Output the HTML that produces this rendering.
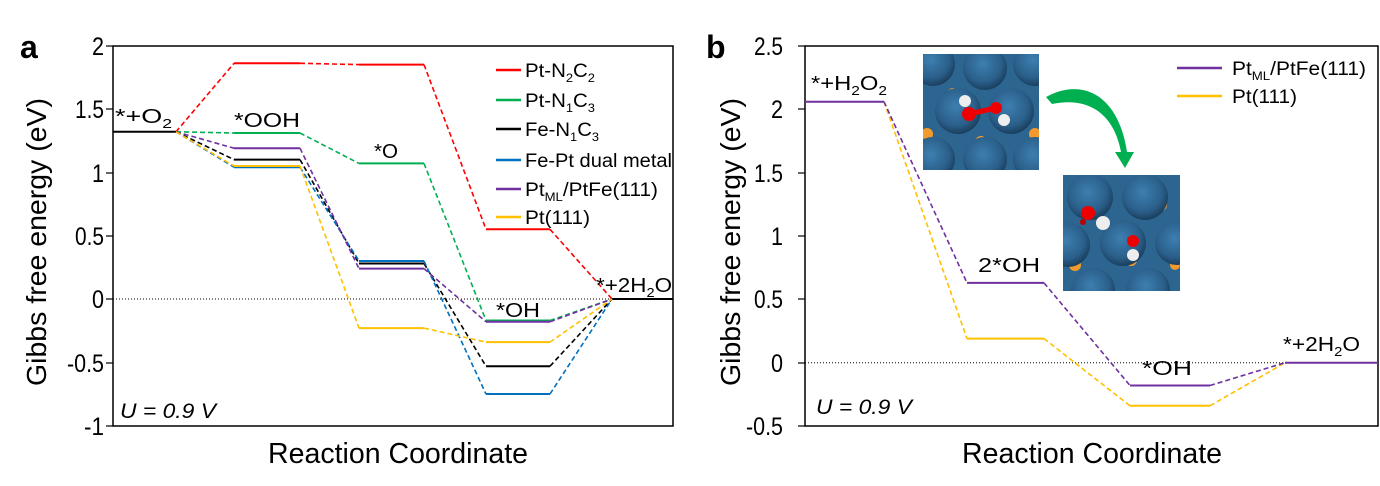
<!DOCTYPE html><html><head><style>body{margin:0;background:#fff}svg{display:block}text{font-family:"Liberation Sans",Arial,sans-serif}</style></head><body>
<svg width="1380" height="486" viewBox="0 0 1380 486" xmlns="http://www.w3.org/2000/svg">
<defs>
<radialGradient id="pt" cx="0.45" cy="0.4" r="0.6"><stop offset="0" stop-color="#3d7fb0"/><stop offset="0.7" stop-color="#2a5f8a"/><stop offset="1" stop-color="#1b3f5e"/></radialGradient>
</defs>
<!-- Panel a -->
<text x="20" y="58" font-size="32" font-weight="bold">a</text>
<rect x="113" y="46" width="560" height="380" fill="none" stroke="#000" stroke-width="1.5"/>
<line x1="113" y1="299" x2="673" y2="299" stroke="#000" stroke-width="1" stroke-dasharray="1,2"/>
<g font-size="25" text-anchor="end" lengthAdjust="spacingAndGlyphs">
<text x="104" y="55" textLength="12" lengthAdjust="spacingAndGlyphs">2</text><text x="104" y="118" textLength="29" lengthAdjust="spacingAndGlyphs">1.5</text><text x="104" y="182" textLength="12" lengthAdjust="spacingAndGlyphs">1</text><text x="104" y="245" textLength="29" lengthAdjust="spacingAndGlyphs">0.5</text><text x="104" y="308" textLength="12" lengthAdjust="spacingAndGlyphs">0</text><text x="104" y="372" textLength="37" lengthAdjust="spacingAndGlyphs">-0.5</text><text x="104" y="435" textLength="20" lengthAdjust="spacingAndGlyphs">-1</text></g>
<g stroke="#000" stroke-width="1.2"><line x1="106" y1="46" x2="113" y2="46"/><line x1="106" y1="109" x2="113" y2="109"/><line x1="106" y1="173" x2="113" y2="173"/><line x1="106" y1="236" x2="113" y2="236"/><line x1="106" y1="299" x2="113" y2="299"/><line x1="106" y1="363" x2="113" y2="363"/><line x1="106" y1="426" x2="113" y2="426"/></g>
<text transform="translate(46,242) rotate(-90)" font-size="28" text-anchor="middle" textLength="288" lengthAdjust="spacingAndGlyphs">Gibbs free energy (eV)</text>
<text x="398" y="463" font-size="29" text-anchor="middle" textLength="260" lengthAdjust="spacingAndGlyphs">Reaction Coordinate</text>
<text x="120" y="418" font-size="21" font-style="italic" textLength="96" lengthAdjust="spacingAndGlyphs">U = 0.9 V</text>
<g fill="none" stroke-width="2">
<g stroke="#ff0000"><path d="M234 63.3H300M359 64.6H424M486 229.3H550"/><path d="M176 131.8L234 63.3M300 63.3L359 64.6M424 64.6L486 229.3M550 229.3L612 299" stroke-width="1.6" stroke-dasharray="5,3"/></g>
<g stroke="#00b050"><path d="M234 133H300M359 163.4H424M486 320.5H550"/><path d="M176 131.8L234 133M300 133L359 163.4M424 163.4L486 320.5M550 320.5L612 299" stroke-width="1.6" stroke-dasharray="5,3"/></g>
<g stroke="#000"><path d="M234 159.6H300M359 263.5H424M486 366.2H550M113 131.8H176M612 299H673"/><path d="M176 131.8L234 159.6M300 159.6L359 263.5M424 263.5L486 366.2M550 366.2L612 299" stroke-width="1.6" stroke-dasharray="5,3"/></g>
<g stroke="#0070c0"><path d="M234 167.2H300M359 261H424M486 394H550"/><path d="M176 131.8L234 167.2M300 167.2L359 261M424 261L486 394M550 394L612 299" stroke-width="1.6" stroke-dasharray="5,3"/></g>
<g stroke="#7030a0"><path d="M234 148.2H300M359 268.6H424M486 321.8H550"/><path d="M176 131.8L234 148.2M300 148.2L359 268.6M424 268.6L486 321.8M550 321.8L612 299" stroke-width="1.6" stroke-dasharray="5,3"/></g>
<g stroke="#ffc000"><path d="M234 166H300M359 328.1H424M486 342.1H550"/><path d="M176 131.8L234 166M300 166L359 328.1M424 328.1L486 342.1M550 342.1L612 299" stroke-width="1.6" stroke-dasharray="5,3"/></g>
</g>
<g font-size="20">
<text x="115" y="123" textLength="57" lengthAdjust="spacingAndGlyphs">*+O<tspan font-size="13" dy="5">2</tspan></text>
<text x="234" y="127" textLength="66" lengthAdjust="spacingAndGlyphs">*OOH</text>
<text x="374" y="158" textLength="24" lengthAdjust="spacingAndGlyphs">*O</text>
<text x="496" y="317" textLength="44" lengthAdjust="spacingAndGlyphs">*OH</text>
<text x="596" y="292" textLength="76" lengthAdjust="spacingAndGlyphs">*+2H<tspan font-size="13" dy="5">2</tspan><tspan dy="-5">O</tspan></text>
</g>
<g font-size="19">
<line x1="496" y1="70" x2="521" y2="70" stroke="#ff0000" stroke-width="2.5"/><text x="525" y="77" textLength="70" lengthAdjust="spacingAndGlyphs">Pt-N<tspan font-size="12" dy="5">2</tspan><tspan dy="-5">C</tspan><tspan font-size="12" dy="5">2</tspan></text>
<line x1="496" y1="100" x2="521" y2="100" stroke="#00b050" stroke-width="2.5"/><text x="525" y="107" textLength="70" lengthAdjust="spacingAndGlyphs">Pt-N<tspan font-size="12" dy="5">1</tspan><tspan dy="-5">C</tspan><tspan font-size="12" dy="5">3</tspan></text>
<line x1="496" y1="129" x2="521" y2="129" stroke="#000" stroke-width="2.5"/><text x="525" y="136" textLength="74" lengthAdjust="spacingAndGlyphs">Fe-N<tspan font-size="12" dy="5">1</tspan><tspan dy="-5">C</tspan><tspan font-size="12" dy="5">3</tspan></text>
<line x1="496" y1="160" x2="521" y2="160" stroke="#0070c0" stroke-width="2.5"/><text x="525" y="167" textLength="147" lengthAdjust="spacingAndGlyphs">Fe-Pt dual metal</text>
<line x1="496" y1="189" x2="521" y2="189" stroke="#7030a0" stroke-width="2.5"/><text x="525" y="196" textLength="133" lengthAdjust="spacingAndGlyphs">Pt<tspan font-size="12" dy="5">ML</tspan><tspan dy="-5">/PtFe(111)</tspan></text>
<line x1="496" y1="217" x2="521" y2="217" stroke="#ffc000" stroke-width="2.5"/><text x="525" y="224" textLength="65" lengthAdjust="spacingAndGlyphs">Pt(111)</text>
</g>
<!-- Panel b -->
<text x="706" y="58" font-size="32" font-weight="bold">b</text>
<rect x="805" y="46" width="573" height="380" fill="none" stroke="#000" stroke-width="1.5"/>
<line x1="805" y1="362.7" x2="1378" y2="362.7" stroke="#000" stroke-width="1" stroke-dasharray="1,2"/>
<g font-size="25" text-anchor="end">
<text x="783" y="55" textLength="29" lengthAdjust="spacingAndGlyphs">2.5</text><text x="783" y="118" textLength="12" lengthAdjust="spacingAndGlyphs">2</text><text x="783" y="182" textLength="29" lengthAdjust="spacingAndGlyphs">1.5</text><text x="783" y="245" textLength="12" lengthAdjust="spacingAndGlyphs">1</text><text x="783" y="308" textLength="29" lengthAdjust="spacingAndGlyphs">0.5</text><text x="783" y="372" textLength="12" lengthAdjust="spacingAndGlyphs">0</text><text x="783" y="435" textLength="37" lengthAdjust="spacingAndGlyphs">-0.5</text></g>
<g stroke="#000" stroke-width="1.2"><line x1="798" y1="46" x2="805" y2="46"/><line x1="798" y1="109" x2="805" y2="109"/><line x1="798" y1="173" x2="805" y2="173"/><line x1="798" y1="236" x2="805" y2="236"/><line x1="798" y1="299" x2="805" y2="299"/><line x1="798" y1="363" x2="805" y2="363"/><line x1="798" y1="426" x2="805" y2="426"/></g>
<text transform="translate(740,242) rotate(-90)" font-size="28" text-anchor="middle" textLength="288" lengthAdjust="spacingAndGlyphs">Gibbs free energy (eV)</text>
<text x="1092" y="463" font-size="29" text-anchor="middle" textLength="260" lengthAdjust="spacingAndGlyphs">Reaction Coordinate</text>
<text x="816" y="414" font-size="21" font-style="italic" textLength="96" lengthAdjust="spacingAndGlyphs">U = 0.9 V</text>
<g fill="none" stroke-width="2">
<g stroke="#ffc000"><path d="M967 338.6H1044M1130 405.8H1210"/><path d="M884 101.7L967 338.6M1044 338.6L1130 405.8M1210 405.8L1285 362.7" stroke-width="1.6" stroke-dasharray="5,3"/></g>
<g stroke="#7030a0"><path d="M805 101.7H884M967 282.9H1044M1130 385.5H1210M1285 362.7H1378"/><path d="M884 101.7L967 282.9M1044 282.9L1130 385.5M1210 385.5L1285 362.7" stroke-width="1.6" stroke-dasharray="5,3"/></g>
</g>
<g font-size="20">
<text x="811" y="90" textLength="76" lengthAdjust="spacingAndGlyphs">*+H<tspan font-size="13" dy="5">2</tspan><tspan dy="-5">O</tspan><tspan font-size="13" dy="5">2</tspan></text>
<text x="978" y="272" textLength="62" lengthAdjust="spacingAndGlyphs">2*OH</text>
<text x="1142" y="375" textLength="50" lengthAdjust="spacingAndGlyphs">*OH</text>
<text x="1283" y="351" textLength="77" lengthAdjust="spacingAndGlyphs">*+2H<tspan font-size="13" dy="5">2</tspan><tspan dy="-5">O</tspan></text>
</g>
<g font-size="19">
<line x1="1177" y1="68" x2="1222" y2="68" stroke="#7030a0" stroke-width="2.5"/><text x="1232" y="75" textLength="134" lengthAdjust="spacingAndGlyphs">Pt<tspan font-size="12" dy="5">ML</tspan><tspan dy="-5">/PtFe(111)</tspan></text>
<line x1="1177" y1="96" x2="1222" y2="96" stroke="#ffc000" stroke-width="2.5"/><text x="1232" y="103" textLength="65" lengthAdjust="spacingAndGlyphs">Pt(111)</text>
</g>
<!-- inset 1 -->
<svg x="923" y="54" width="116" height="116" viewBox="0 0 116 116">
<rect width="116" height="116" fill="#2c6690"/>
<g fill="#f39a2a"><circle cx="30" cy="40" r="6"/><circle cx="88" cy="40" r="6"/><circle cx="58" cy="88" r="6"/><circle cx="4" cy="80" r="6"/><circle cx="112" cy="80" r="6"/><circle cx="60" cy="8" r="5"/></g>
<g fill="url(#pt)"><circle cx="10" cy="10" r="22"/><circle cx="62" cy="14" r="22"/><circle cx="112" cy="10" r="22"/><circle cx="35" cy="57" r="23"/><circle cx="88" cy="57" r="23"/><circle cx="10" cy="105" r="22"/><circle cx="62" cy="105" r="22"/><circle cx="112" cy="105" r="22"/></g>
<line x1="46" y1="60" x2="73" y2="54" stroke="#e00" stroke-width="5"/>
<circle cx="46" cy="60" r="7" fill="#e00"/><circle cx="73" cy="54" r="6" fill="#e00"/>
<circle cx="42" cy="47" r="6" fill="#eee"/><circle cx="81" cy="66" r="6" fill="#eee"/>
</svg>
<!-- inset 2 -->
<svg x="1063" y="175" width="117" height="116" viewBox="0 0 117 116">
<rect width="117" height="116" fill="#2c6690"/>
<g fill="#f39a2a"><circle cx="40" cy="30" r="6"/><circle cx="98" cy="30" r="6"/><circle cx="68" cy="85" r="6"/><circle cx="12" cy="90" r="6"/><circle cx="112" cy="90" r="5"/></g>
<g fill="url(#pt)"><circle cx="27" cy="22" r="23"/><circle cx="82" cy="22" r="23"/><circle cx="5" cy="70" r="22"/><circle cx="60" cy="68" r="23"/><circle cx="114" cy="68" r="22"/><circle cx="30" cy="115" r="22"/><circle cx="85" cy="115" r="22"/></g>
<circle cx="25" cy="38" r="7" fill="#e00"/><circle cx="20" cy="47" r="3" fill="#b00"/>
<circle cx="40" cy="48" r="7" fill="#eee"/>
<circle cx="70" cy="66" r="6" fill="#e00"/><circle cx="70" cy="80" r="6" fill="#eee"/>
</svg>
<!-- arrow -->
<path d="M1046 97 C1080 78 1118 92 1127 152 L1134 152 L1125 168 L1115 152 L1121 152 C1113 110 1085 97 1052 104 Z" fill="#00b050"/>
</svg>
</body></html>
